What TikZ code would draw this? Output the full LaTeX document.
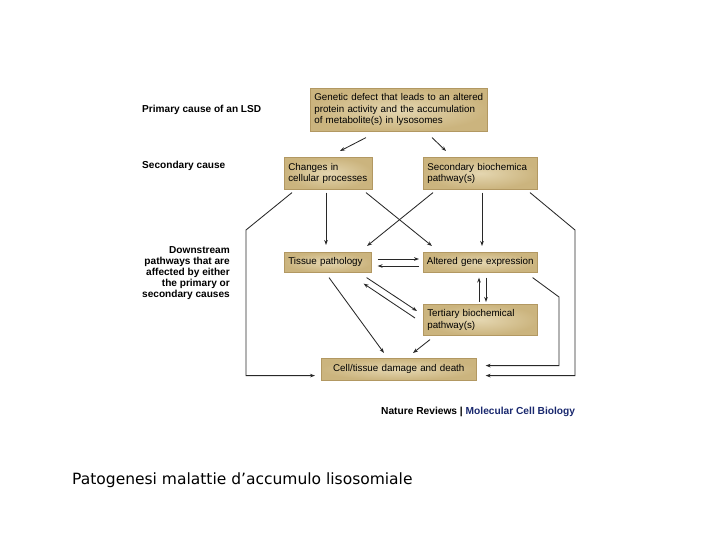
\documentclass[tikz,border=0pt]{standalone}
\usepackage{fontspec}
\setmainfont{Liberation Sans}
\newfontfamily\capfont{DejaVu Sans}
\usetikzlibrary{arrows.meta}
\definecolor{boxlight}{RGB}{228,214,176}
\definecolor{boxdark}{RGB}{203,180,126}
\definecolor{boxedge}{RGB}{178,152,98}
\definecolor{linecol}{RGB}{40,40,40}
\definecolor{navy}{RGB}{25,40,110}
\begin{document}
\begin{tikzpicture}[x=1pt,y=-1pt,
  boxnode/.style={draw=boxedge, line width=0.6pt, inner color=boxlight, outer color=boxdark,
    inner xsep=4pt, inner ysep=1pt,
    anchor=north west, align=left, font=\fontsize{9.8}{11.5}\selectfont},
  arr/.style={draw=linecol, line width=0.85pt, -{Stealth[length=5pt,width=3.6pt]}},
  lbl/.style={font=\bfseries\fontsize{10.1}{11}\selectfont, inner sep=0pt}]
\useasboundingbox (0,0) rectangle (720,540);
% boxes
\node[boxnode, minimum width=177pt, minimum height=43pt, text width=169pt] (gen) at (310,88)
  {Genetic defect that leads to an altered\\protein activity and the accumulation\\of metabolite(s) in lysosomes};
\node[boxnode, minimum width=88pt, minimum height=32pt, text width=80pt] (ch) at (284,157)
  {Changes in\\cellular processes};
\node[boxnode, minimum width=114pt, minimum height=32pt, text width=106pt] (sec) at (423,157)
  {Secondary biochemica\\pathway(s)};
\node[boxnode, minimum width=87pt, minimum height=20pt, text width=79pt] (tis) at (284,252)
  {Tissue pathology};
\node[boxnode, minimum width=114pt, minimum height=20pt, text width=107pt, inner xsep=3.5pt] (alt) at (423,252)
  {\mbox{Altered gene expression}};
\node[boxnode, minimum width=114pt, minimum height=31pt, text width=106pt] (ter) at (423,304)
  {Tertiary biochemical\\pathway(s)};
\node[boxnode, minimum width=155pt, minimum height=22pt, text width=147pt, align=center] (cell) at (321,358)
  {Cell/tissue damage and death};
% left labels
\node[lbl, anchor=west] (l1) at (142,110) {Primary cause of an LSD};
\node[lbl, anchor=west] (l2) at (142,166) {Secondary cause};
\node[lbl, anchor=north east, align=right] (l3) at (230,246)
  {Downstream\\pathways that are\\affected by either\\the primary or\\secondary causes};
\node[inner sep=0pt, anchor=west, font=\bfseries\fontsize{10.2}{11}\selectfont] (nr) at (381,412)
  {Nature Reviews | \textcolor{navy}{Molecular Cell Biology}};
\node[inner sep=0pt, anchor=west, font=\capfont\fontsize{15.5}{17}\selectfont] (cap) at (72,480)
  {Patogenesi malattie d’accumulo lisosomiale};
% bend coordinates
\coordinate (lb) at (246,230);
\coordinate (rb) at (575,230);
\coordinate (rb2) at (559,297);
% connectors
\draw[arr] ([shift={(56,6)}]gen.south west) -- ([shift={(56,-6)}]ch.north west);
\draw[arr] ([shift={(122,6)}]gen.south west) -- ([shift={(23,-6)}]sec.north west);
\draw[arr] ([shift={(8,3)}]ch.south west) -- (lb) |- ([shift={(-6,-5)}]cell.south west);
\draw[arr] ([shift={(42,3)}]ch.south west) -- ([shift={(42,-7)}]tis.north west);
\draw[arr] ([shift={(82,3)}]ch.south west) -- ([shift={(9,-6)}]alt.north west);
\draw[arr] ([shift={(10,3)}]sec.south west) -- ([shift={(83,-6)}]tis.north west);
\draw[arr] ([shift={(59,3)}]sec.south west) -- ([shift={(59,-6)}]alt.north west);
\draw[arr] ([shift={(107,3)}]sec.south west) -- (rb) |- ([shift={(9,-5)}]cell.south east);
\draw[arr] ([shift={(6,7)}]tis.north east) -- ([shift={(-4,7)}]alt.north west);
\draw[arr] ([shift={(-4,14)}]alt.north west) -- ([shift={(6,14)}]tis.north east);
\draw[arr] ([shift={(56,-2)}]ter.north west) -- ([shift={(56,5)}]alt.south west);
\draw[arr] ([shift={(63,5)}]alt.south west) -- ([shift={(63,-2)}]ter.north west);
\draw[arr] ([shift={(-5,5)}]tis.south east) -- ([shift={(-6,7)}]ter.north west);
\draw[arr] ([shift={(-8,14)}]ter.north west) -- ([shift={(-8,11)}]tis.south east);
\draw[arr] ([shift={(45,5)}]tis.south west) -- ([shift={(63,-5)}]cell.north west);
\draw[arr] ([shift={(7,4)}]ter.south west) -- ([shift={(92,-5)}]cell.north west);
\draw[arr] ([shift={(-5,5)}]alt.south east) -- (rb2) |- ([shift={(9,-15)}]cell.south east);
\end{tikzpicture}
\end{document}
